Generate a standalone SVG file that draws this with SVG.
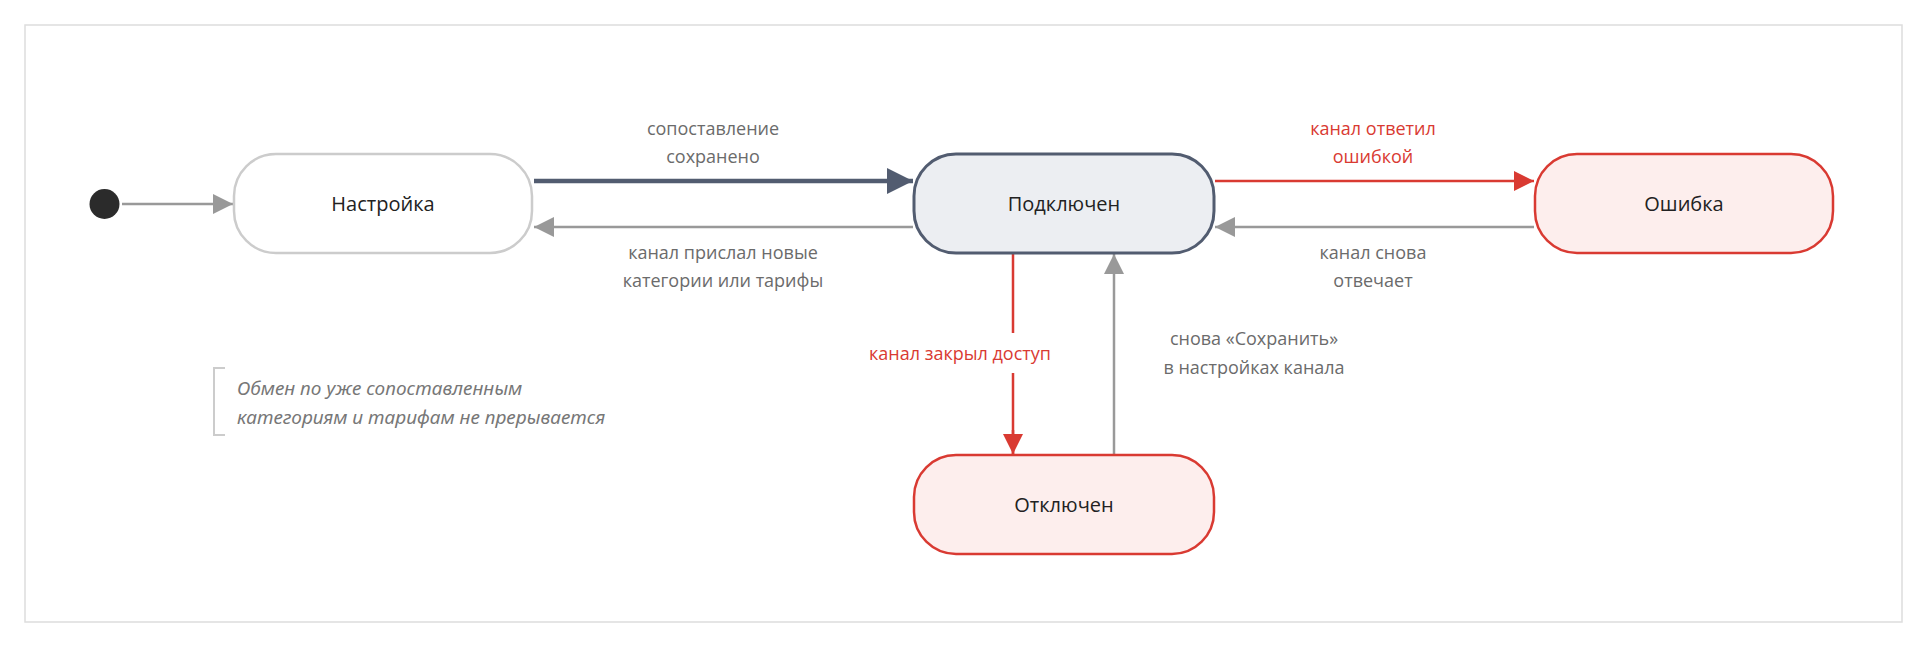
<svg xmlns="http://www.w3.org/2000/svg" width="1928" height="648" viewBox="0 0 1928 648">
<style>
text{font-family:"Open Sans","Noto Sans",sans-serif;text-anchor:middle}
.n{font-size:20px;fill:#222}
.l{font-size:18px;fill:#6b6b6b}
.r{fill:#d93a32}
.note{font-size:19px;fill:#777;font-style:italic;text-anchor:start;font-family:"Noto Sans","Open Sans",sans-serif}
.g{stroke:#999;stroke-width:2.5;fill:none}
.red{stroke:#d93a32;stroke-width:2.5;fill:none}
</style>
<defs>
<marker id="ag" viewBox="0 0 10 10" refX="10" refY="5" markerWidth="8" markerHeight="8" markerUnits="userSpaceOnUse" orient="auto"><path d="M0,0L10,5L0,10z" fill="#999"/></marker>
<marker id="ag2" viewBox="0 0 10 10" refX="10" refY="5" markerWidth="20" markerHeight="20" markerUnits="userSpaceOnUse" orient="auto"><path d="M0,0L10,5L0,10z" fill="#999"/></marker>
<marker id="ar" viewBox="0 0 10 10" refX="10" refY="5" markerWidth="20" markerHeight="20" markerUnits="userSpaceOnUse" orient="auto"><path d="M0,0L10,5L0,10z" fill="#d93a32"/></marker>
<marker id="ad" viewBox="0 0 10 10" refX="10" refY="5" markerWidth="26" markerHeight="26" markerUnits="userSpaceOnUse" orient="auto"><path d="M0,0L10,5L0,10z" fill="#525c70"/></marker>
</defs>
<rect x="25" y="25" width="1877" height="597" fill="#fff" stroke="#ddd" stroke-width="1.5"/>
<g id="connectors">
<line x1="122" y1="204" x2="233" y2="204" class="g" marker-end="url(#ag2)"/>
<line x1="534" y1="181" x2="913" y2="181" stroke="#525c70" stroke-width="4.5" marker-end="url(#ad)"/>
<line x1="913" y1="227" x2="534" y2="227" class="g" marker-end="url(#ag2)"/>
<line x1="1215" y1="181" x2="1534" y2="181" class="red" marker-end="url(#ar)"/>
<line x1="1534" y1="227" x2="1215" y2="227" class="g" marker-end="url(#ag2)"/>
<path d="M1013,254V333M1013,373V454" class="red"/>
<line x1="1013" y1="430" x2="1013" y2="454" class="red" marker-end="url(#ar)"/>
<line x1="1114" y1="455" x2="1114" y2="254" class="g" marker-end="url(#ag2)"/>
<text class="l" x="713" y="135">сопоставление</text>
<text class="l" x="713" y="163">сохранено</text>
<text class="l" x="723" y="259">канал прислал новые</text>
<text class="l" x="723" y="287">категории или тарифы</text>
<text class="l r" x="1373" y="135">канал ответил</text>
<text class="l r" x="1373" y="163">ошибкой</text>
<text class="l" x="1373" y="259">канал снова</text>
<text class="l" x="1373" y="287">отвечает</text>
<text class="l r" x="960" y="360">канал закрыл доступ</text>
<text class="l" x="1254" y="345">снова «Сохранить»</text>
<text class="l" x="1254" y="374">в настройках канала</text>
</g>
<g id="start"><circle cx="104.5" cy="204" r="15" fill="#2b2b2b"/></g>
<g id="setup"><rect x="234" y="154" width="298" height="99" rx="42" fill="#fff" stroke="#ccc" stroke-width="2.5"/><text class="n" x="383" y="211">Настройка</text></g>
<g id="connected"><rect x="914" y="154" width="300" height="99" rx="42" fill="#eceef2" stroke="#525c70" stroke-width="3"/><text class="n" x="1064" y="211">Подключен</text></g>
<g id="error"><rect x="1535" y="154" width="298" height="99" rx="42" fill="#fdeeed" stroke="#d93a32" stroke-width="2.5"/><text class="n" x="1684" y="211">Ошибка</text></g>
<g id="disabled"><rect x="914" y="455" width="300" height="99" rx="42" fill="#fdeeed" stroke="#d93a32" stroke-width="2.5"/><text class="n" x="1064" y="512">Отключен</text></g>
<g id="note"><path d="M225,368H214V435H225" fill="none" stroke="#ccc" stroke-width="2"/><text class="note" x="237" y="395">Обмен по уже сопоставленным</text><text class="note" x="237" y="424">категориям и тарифам не прерывается</text></g>
</svg>
